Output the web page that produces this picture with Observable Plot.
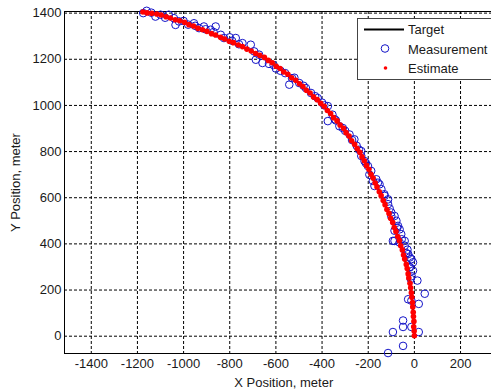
<!DOCTYPE html>
<html><head><meta charset="utf-8">
<script src="https://cdn.jsdelivr.net/npm/d3@7"></script>
<script src="https://cdn.jsdelivr.net/npm/@observablehq/plot@0.6"></script>
<style>
html,body{margin:0;padding:0;background:#fff;overflow:hidden;width:491px;height:391px}
#wrap{position:relative;width:520px;height:391px}
#legend{position:absolute;left:0;top:0}
</style></head><body><div id="wrap"></div>
<script>
// Target trajectory
const targetX = [0, -4, -14, -32, -60, -97, -140, -186, -238, -307, -395, -503, -637, -745, -850, -1000, -1100, -1176];
const targetY = [0, 100, 200, 300, 400, 500, 600, 700, 800, 900, 1000, 1100, 1200, 1255, 1300, 1361, 1392, 1405];

// Measurements (blue circles)
const measX = [-114, -49, -93, 19, -13, -49, -49, 19, -27, -13, 45,
  -16, 13, -6, -20, -6, -13, -20, -27, -42, -30, -12, -20, -35,
  -64, -86, -93, -42, -57, -86, -64, -71, -78, -86, -100, -114, -114, -107, -55, -75, -100,
  -129, -143, -151, -173, -180, -158, -195, -187, -201, -216, -230, -230, -130, -165, -210,
  -250, -260, -281, -300, -325, -340, -375, -355, -375, -240, -270, -310, -345,
  -400, -419, -448, -470, -499, -542, -520, -560, -600, -630, -658, -390, -430, -480, -530, -580, -610,
  -673, -687, -694, -709, -745, -774, -800, -825, -839, -861, -883, -912, -933, -955, -980, -760, -790, -870, -905, -950, -1000,
  -1020, -1035, -1042, -1064, -1100, -1122, -1160, -1175, -1080, -1140];
const measY = [-73, -42, 18, 18, 40, 40, 68, 140, 160, 154, 184,
  248, 241, 284, 298, 320, 334, 341, 356, 392, 375, 260, 300, 360,
  406, 413, 413, 413, 442, 457, 463, 478, 500, 521, 536, 572, 593, 553, 420, 470, 520,
  608, 637, 658, 651, 673, 665, 700, 716, 737, 759, 781, 802, 615, 680, 750,
  825, 853, 874, 890, 910, 935, 932, 960, 997, 808, 850, 902, 940,
  1012, 1032, 1054, 1075, 1097, 1090, 1120, 1140, 1160, 1180, 1184, 1000, 1040, 1085, 1118, 1150, 1175,
  1220, 1198, 1234, 1263, 1270, 1292, 1295, 1292, 1306, 1342, 1328, 1342, 1335, 1356, 1350, 1265, 1280, 1318, 1330, 1345, 1366,
  1364, 1349, 1378, 1393, 1393, 1385, 1410, 1400, 1380, 1402];

// Estimates (red dots)
const estX = [0, -1, -3, -2, -4, -5, -7, -8, -11, -13, -16, -19, -24, -27, -31, -35, -42, -47, -52, -59,
  -65, -72, -80, -87, -94, -103, -110, -119, -127, -135, -144, -152, -162, -170, -179, -188, -197, -208, -217, -227,
  -236, -248, -259, -272, -283, -296, -307, -322, -335, -350, -363, -377, -391, -406, -421, -437, -452, -468, -483, -498,
  -514, -532, -548, -566, -582, -599, -616, -633, -650, -670, -688, -707, -726, -745, -763, -784, -802, -822, -840, -861,
  -879, -899, -918, -938, -957, -977, -996, -1017, -1036, -1057, -1076, -1097, -1116, -1138, -1158, -1176];
const estY = [2, 22, 41, 64, 85, 104, 127, 146, 169, 188, 210, 229, 252, 270, 293, 311, 334, 352, 374, 392,
  414, 432, 454, 471, 493, 511, 532, 549, 570, 588, 609, 626, 647, 664, 685, 702, 723, 740, 760, 777,
  797, 813, 832, 847, 867, 882, 901, 915, 933, 947, 965, 978, 996, 1009, 1025, 1037, 1054, 1066, 1082, 1094,
  1109, 1120, 1135, 1145, 1160, 1170, 1185, 1195, 1208, 1217, 1225, 1236, 1244, 1255, 1262, 1272, 1278, 1288, 1295, 1305,
  1311, 1321, 1328, 1334, 1344, 1350, 1360, 1367, 1371, 1379, 1384, 1392, 1396, 1399, 1401, 1405];

const xTicks = [-1400, -1200, -1000, -800, -600, -400, -200, 0, 200];
const yTicks = [0, 200, 400, 600, 800, 1000, 1200, 1400];
const legendLabels = ["Target", "Measurement", "Estimate"];

const target = targetX.map((x, i) => ({x, y: targetY[i]}));
const meas = measX.map((x, i) => ({x, y: measY[i]}));
const est = estX.map((x, i) => ({x, y: estY[i]}));

const font = "'Liberation Sans', Arial, sans-serif";
const grid = {stroke: "#000", strokeOpacity: 1, strokeWidth: 1, strokeDasharray: "3,2"};
const blue = "#1414c8";

const chart = Plot.plot({
  width: 520, height: 391,
  marginLeft: 64, marginRight: 17.5, marginTop: 11, marginBottom: 38,
  style: {fontFamily: font, fontSize: "13px", color: "#1a1a1a", background: "#fff", overflow: "visible"},
  x: {domain: [-1516, 384]},
  y: {domain: [-75, 1407]},
  marks: [
    Plot.gridX(xTicks, grid),
    Plot.gridY(yTicks, grid),
    Plot.axisX(xTicks, {tickSize: 0, tickPadding: 5, tickFormat: d => String(d), label: "X Position, meter", labelAnchor: "center", labelArrow: "none", labelOffset: 33}),
    Plot.axisY(yTicks, {tickSize: 0, tickPadding: 3, tickFormat: d => String(d), label: "Y Position, meter", labelAnchor: "center", labelArrow: "none", labelOffset: 54}),
    Plot.frame({stroke: "#000", strokeWidth: 1}),
    Plot.line(target, {x: "x", y: "y", stroke: "#000", strokeWidth: 2}),
    Plot.dot(meas, {x: "x", y: "y", r: 3.8, stroke: blue, strokeWidth: 1, fill: "none"}),
    Plot.dot(est, {x: "x", y: "y", r: 2.8, fill: "#ff0000", stroke: "none"})
  ]
});
const wrap = document.getElementById("wrap");
wrap.appendChild(chart);

// Legend overlay
const lg = d3.select(wrap).append("svg").attr("id", "legend").attr("width", 520).attr("height", 100)
  .style("font-family", font).style("font-size", "13px");
lg.append("rect").attr("x", 357.5).attr("y", 18.5).attr("width", 160).attr("height", 61)
  .attr("fill", "#fff").attr("stroke", "#444").attr("stroke-width", 1);
lg.append("line").attr("x1", 364).attr("x2", 404).attr("y1", 29.5).attr("y2", 29.5)
  .attr("stroke", "#000").attr("stroke-width", 2);
lg.append("circle").attr("cx", 385).attr("cy", 48.5).attr("r", 3.8)
  .attr("fill", "none").attr("stroke", blue).attr("stroke-width", 1);
lg.append("circle").attr("cx", 385.5).attr("cy", 68).attr("r", 1.8).attr("fill", "#ff0000");
const baselines = [34, 53.5, 73];
legendLabels.forEach((t, i) => {
  lg.append("text").attr("x", 408).attr("y", baselines[i]).attr("fill", "#1a1a1a").text(t);
});
</script></body></html>
